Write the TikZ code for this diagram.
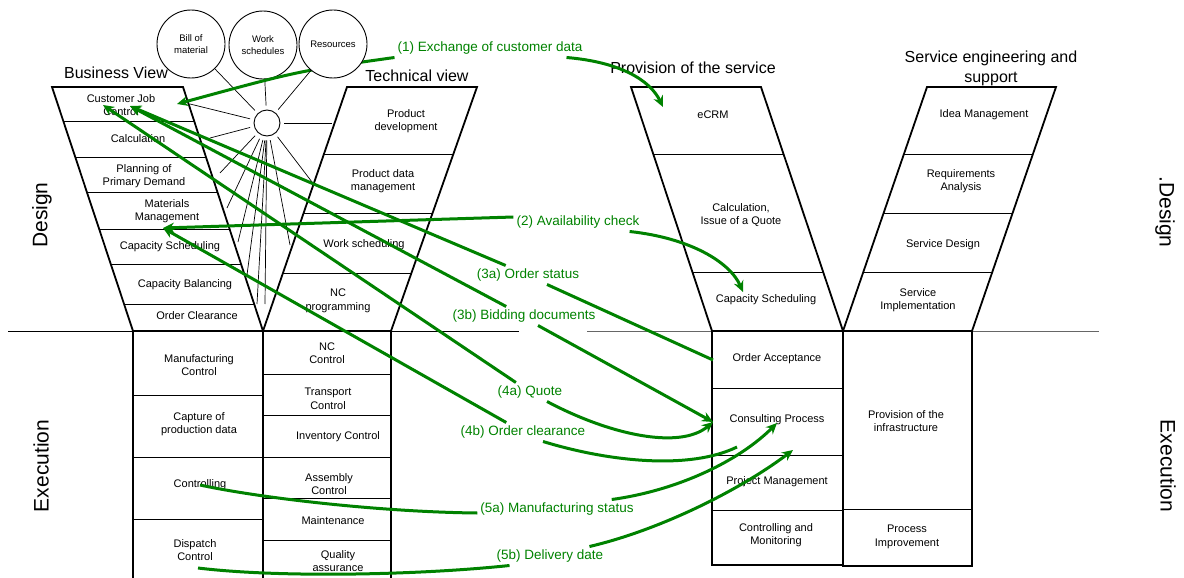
\documentclass[tikz,border=0pt]{standalone}
\usepackage{fontspec}
\setmainfont{Liberation Sans}
\usetikzlibrary{arrows.meta,calc}
\definecolor{flowgreen}{RGB}{0,130,0}

\begin{document}
\begin{tikzpicture}[x=1pt, y=-1pt, >={Stealth[length=11pt,width=10pt]},
    cell/.style={align=center, font=\fontsize{11}{13.5}\selectfont},
    head/.style={align=center, font=\fontsize{16}{20}\selectfont},
    side/.style={font=\fontsize{21}{25}\selectfont},
    bubble/.style={circle, draw, line width=0.9pt, fill=white, minimum size=68pt, inner sep=0pt,
                   align=center, font=\fontsize{9.5}{12.5}\selectfont},
    funnel/.style={line width=1.8pt},
    row/.style={line width=0.8pt},
    ray/.style={line width=0.7pt, shorten <=4pt},
    flow/.style={flowgreen, line width=3pt},
    flowlabel/.style={text=flowgreen, font=\fontsize{13.5}{16}\selectfont, inner sep=3pt}]
    \useasboundingbox (0,0) rectangle (1184,578);

    % 1. Border between design and execution
    \draw[row] (8,331) -- (519,331);
    \draw[row, black!60] (587,331) -- (1099,331);

    % 2. Design funnels
    % Business view
    \coordinate (bv1) at (52,87);   \coordinate (bv2) at (183,87);
    \coordinate (bv3) at (263,331); \coordinate (bv4) at (133,331);
    \draw[funnel] (bv1) -- (bv2) -- (bv3) -- (bv4) -- cycle;
    \foreach \t in {0.139,0.287,0.430,0.582,0.725,0.889}
        \draw[row] ($(bv1)!\t!(bv4)$) -- ($(bv2)!\t!(bv3)$);
    % Technical view
    \coordinate (tv1) at (347,87);  \coordinate (tv2) at (477,87);
    \coordinate (tv3) at (391,331); \coordinate (tv4) at (263,331);
    \draw[funnel] (tv1) -- (tv2) -- (tv3) -- (tv4) -- cycle;
    \foreach \t in {0.275,0.520,0.762}
        \draw[row] ($(tv1)!\t!(tv4)$) -- ($(tv2)!\t!(tv3)$);
    % Provision of the service
    \coordinate (ps1) at (631,87);  \coordinate (ps2) at (761,87);
    \coordinate (ps3) at (843,331); \coordinate (ps4) at (712,331);
    \draw[funnel] (ps1) -- (ps2) -- (ps3) -- (ps4) -- cycle;
    \foreach \t in {0.275,0.758}
        \draw[row] ($(ps1)!\t!(ps4)$) -- ($(ps2)!\t!(ps3)$);
    % Service engineering
    \coordinate (se1) at (927,87);  \coordinate (se2) at (1056,87);
    \coordinate (se3) at (972,331); \coordinate (se4) at (843,331);
    \draw[funnel] (se1) -- (se2) -- (se3) -- (se4) -- cycle;
    \foreach \t in {0.275,0.516,0.758}
        \draw[row] ($(se1)!\t!(se4)$) -- ($(se2)!\t!(se3)$);

    % 3. Execution columns
    \draw[funnel] (133,578) -- (133,331) -- (391,331) -- (391,578);
    \draw[funnel] (263,331) -- (263,578);
    \foreach \y in {395,457,519} \draw[row] (133,\y) -- (263,\y);
    \foreach \y in {374,415,457,498,540} \draw[row] (263,\y) -- (391,\y);
    \draw[funnel] (712,331) rectangle (843,565);
    \draw[funnel] (843,331) rectangle (972,566);
    \foreach \y in {388,455,510} \draw[row] (712,\y) -- (843,\y);
    \draw[row] (843,509) -- (972,509);

    % 4. Headings
    \node[head] (bvhead) at (116,73) {Business View};
    \node[head] (tvhead) at (417,76) {Technical view};
    \node[head] (pshead) at (693,68) {Provision of the service};
    \node[head] (sehead) at (991,68) {Service engineering and\\support};
    \node[side, rotate=90] (designl) at (42,215) {Design};
    \node[side, rotate=90] (execl) at (41,466) {Execution};
    \node[side, rotate=-90] (designr) at (1165,212) {.Design};
    \node[side, rotate=-90] (execr) at (1168,466) {Execution};

    % 5. Cells of the design funnels
    \node[cell] (cjc) at (121,105) {Customer Job\\Control};
    \node[cell] (calc) at (138,139) {Calculation};
    \node[cell] (ppd) at (144,176) {Planning of\\Primary Demand};
    \node[cell] (mm) at (167,211) {Materials\\Management};
    \node[cell] (capsch) at (170,247) {Capacity Scheduling};
    \node[cell] (capbal) at (185,285) {Capacity Balancing};
    \node[cell] (ordcl) at (197,316) {Order Clearance};
    \node[cell] (pdev) at (406,121) {Product\\development};
    \node[cell] (pdm) at (383,181) {Product data\\management};
    \node[cell] (wsch) at (364,245) {Work scheduling};
    \node[cell] (ncp) at (338,301) {NC\\programming};
    \node[cell] (ecrm) at (713,115) {eCRM};
    \node[cell] (quote) at (741,215) {Calculation,\\Issue of a Quote};
    \node[cell] (pscap) at (766,300) {Capacity Scheduling};
    \node[cell] (idea) at (984,115) {Idea Management};
    \node[cell] (req) at (961,181) {Requirements\\Analysis};
    \node[cell] (sdes) at (943,245) {Service Design};
    \node[cell] (simp) at (918,300) {Service\\Implementation};

    % 6. Cells of the execution columns
    \node[cell] (mfc) at (199,365) {Manufacturing\\Control};
    \node[cell] (cpd) at (199,424) {Capture of\\production data};
    \node[cell] (ctl) at (200,485) {Controlling};
    \node[cell] (dsp) at (195,550) {Dispatch\\Control};
    \node[cell] (ncc) at (327,353) {NC\\Control};
    \node[cell] (trc) at (328,399) {Transport\\Control};
    \node[cell] (inv) at (338,437) {Inventory Control};
    \node[cell] (asm) at (329,484) {Assembly\\Control};
    \node[cell] (mnt) at (333,521) {Maintenance};
    \node[cell] (qa) at (338,561) {Quality\\assurance};
    \node[cell] (oacc) at (777,359) {Order Acceptance};
    \node[cell] (cons) at (777,420) {Consulting Process};
    \node[cell] (pm) at (777,482) {Project Management};
    \node[cell] (cm) at (776,535) {Controlling and\\Monitoring};
    \node[cell] (infra) at (906,421) {Provision of the\\infrastructure};
    \node[cell] (pimp) at (907,537) {Process\\Improvement};

    % 7. Data hub and its rays
    \node[circle, draw, line width=0.9pt, minimum size=26pt, inner sep=0pt] (hub) at (267,123) {};
    \node[bubble] (bom) at (191,44) {Bill of\\material};
    \node[bubble] (wsd) at (263,45) {Work\\schedules};
    \foreach \p in {(190,104),(210,138),(220,173),(227,208),(238,242),(247,275),
                    (257,304),(265,304),(290,245),(312,182),(332,123)}
        \draw[ray] (hub) -- \p;
    \draw[ray] (hub) -- (bom);
    \draw[ray] (hub) -- (wsd);

    % 8. Green flows
    \node[flowlabel] (f1) at (490,48) {(1) Exchange of customer data};
    \node[flowlabel] (f2) at (578,222) {(2) Availability check};
    \node[flowlabel] (f3a) at (528,275) {(3a) Order status};
    \node[flowlabel] (f3b) at (524,316) {(3b) Bidding documents};
    \node[flowlabel] (f4a) at (530,392) {(4a) Quote};
    \node[flowlabel] (f4b) at (523,432) {(4b) Order clearance};
    \node[flowlabel] (f5a) at (557,509) {(5a) Manufacturing status};
    \node[flowlabel] (f5b) at (550,556) {(5b) Delivery date};

    \coordinate (cjc-a) at (177,104);
    \coordinate (cjc-b) at (130,106);
    \coordinate (cjc-c) at (103,105);
    \coordinate (mm-in) at (163,228);
    \coordinate (ecrm-in) at (663,107);
    \coordinate (cap-in) at (743,292);
    \coordinate (oacc-in) at (713,360);
    \coordinate (cons-a) at (713,422);
    \coordinate (cons-b) at (737,447);
    \coordinate (cons-c) at (777,423);
    \coordinate (cons-d) at (793,450);
    \coordinate (ctl-in) at (200,485);
    \coordinate (dsp-in) at (198,568);

    % (1)
    \draw[flow, ->] (f1.south west) .. controls (298,71) .. (cjc-a);
    \draw[flow, ->] ([xshift=-19pt]f1.south east) .. controls (620,62) and (650,80) .. (ecrm-in);
    % (2)
    \draw[flow, ->] ([yshift=5pt]f2.west) -- (mm-in);
    \draw[flow, ->] ([xshift=-13pt]f2.south east) .. controls (690,238) and (730,262) .. (cap-in);
    % (3a) and (3b)
    \draw[flow, ->] (f3a) -- (cjc-b);
    \draw[flow] ([xshift=19pt]f3a.south) -- (oacc-in);
    \draw[flow, ->] (f3b) -- (cjc-b);
    \draw[flow, ->] ([xshift=14pt]f3b.south) -- (cons-a);
    % (4a) and (4b)
    \draw[flow, ->] (f4a) -- (cjc-c);
    \draw[flow, ->] ([xshift=17pt]f4a.south) .. controls (610,435) and (680,450) .. (cons-a);
    \draw[flow, ->] (f4b) -- (mm-in);
    \draw[flow] ([xshift=20pt]f4b.south) .. controls (610,462) and (690,470) .. (cons-b);
    % (5a) and (5b)
    \draw[flow] ([yshift=-4pt]f5a.west) .. controls (380,512) and (260,498) .. (ctl-in);
    \draw[flow, ->] ([xshift=-25pt]f5a.north east) .. controls (680,490) and (740,460) .. (cons-c);
    \draw[flow] ([xshift=16pt]f5b.south west) .. controls (420,575) and (280,578) .. (dsp-in);
    \draw[flow, ->] ([xshift=-17pt]f5b.north east) .. controls (660,530) and (740,490) .. (cons-d);

    % 9. Resources lies over flow (1)
    \node[bubble] (res) at (333,44) {Resources};
    \draw[ray] (hub) -- (res);

\end{tikzpicture}
\end{document}
